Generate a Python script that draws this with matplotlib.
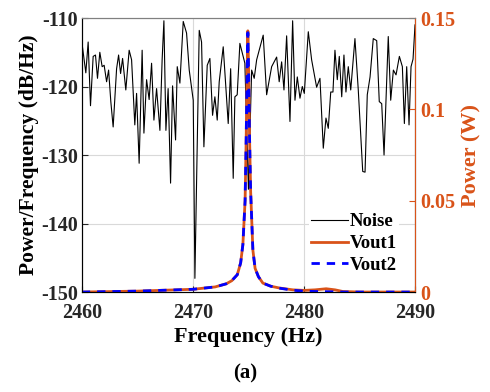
import matplotlib
matplotlib.use("Agg")
import matplotlib.pyplot as plt
from matplotlib.lines import Line2D

# ---- data ----
noise_freq = [
    2460.00, 2460.36, 2460.57, 2460.78, 2461.02, 2461.23, 2461.41, 2461.62, 2461.83, 2462.01,
    2462.23, 2462.41, 2462.61, 2462.82, 2463.13, 2463.31, 2463.49, 2463.67, 2463.96, 2464.26,
    2464.48, 2464.77, 2464.93, 2465.16, 2465.43, 2465.59, 2465.83, 2466.06, 2466.28, 2466.49,
    2466.73, 2467.03, 2467.23, 2467.39, 2467.57, 2467.77, 2467.99, 2468.17, 2468.44, 2468.59,
    2468.83, 2469.13, 2469.43, 2469.67, 2470.03, 2470.18, 2470.57, 2470.78, 2470.99, 2471.29,
    2471.53, 2471.77, 2471.98, 2472.19, 2472.37, 2472.73, 2473.18, 2473.40, 2473.63, 2473.78,
    2473.99, 2474.23, 2474.68, 2475.00, 2475.29, 2475.52, 2475.74, 2476.33, 2476.64, 2477.09,
    2477.54, 2477.77, 2477.99, 2478.20, 2478.44, 2478.74, 2478.98, 2479.19, 2479.40, 2479.64,
    2479.85, 2480.03, 2480.39, 2480.69, 2481.14, 2481.44, 2481.74, 2481.98, 2482.19, 2482.41,
    2482.61, 2482.79, 2483.00, 2483.18, 2483.40, 2483.60, 2483.78, 2483.99, 2484.21, 2484.59,
    2484.89, 2485.29, 2485.50, 2485.70, 2485.95, 2486.24, 2486.55, 2486.78, 2487.00, 2487.21,
    2487.59, 2487.81, 2488.05, 2488.29, 2488.59, 2488.86, 2489.04, 2489.25, 2489.46, 2489.64,
    2489.82, 2490.00,
]
noise_db = [
    -113.5, -118.0, -113.5, -122.8, -115.6, -115.4, -118.8, -115.0, -117.1, -116.9,
    -119.3, -117.6, -122.2, -125.9, -117.4, -115.4, -118.1, -115.9, -120.5, -114.7,
    -116.1, -125.6, -121.0, -131.2, -114.7, -126.8, -119.0, -121.9, -116.6, -124.9,
    -120.3, -126.4, -116.1, -110.4, -126.4, -120.3, -134.1, -119.9, -127.8, -117.1,
    -119.5, -110.5, -112.2, -117.6, -122.0, -148.0, -111.8, -113.5, -128.8, -116.9,
    -115.9, -124.2, -121.5, -124.9, -119.3, -114.2, -125.4, -117.4, -133.4, -121.5,
    -121.2, -113.7, -116.6, -135.0, -117.6, -118.8, -116.1, -112.5, -121.2, -117.1,
    -115.7, -119.3, -116.4, -120.5, -112.6, -125.1, -110.4, -122.0, -118.6, -121.7,
    -120.0, -121.0, -112.0, -116.1, -120.1, -118.8, -129.0, -124.6, -126.1, -120.8,
    -120.8, -114.7, -119.0, -115.6, -121.5, -115.4, -120.8, -117.1, -120.5, -113.0,
    -120.5, -132.4, -132.5, -121.2, -118.6, -113.0, -113.3, -122.2, -122.5, -130.0,
    -112.7, -122.0, -117.6, -118.3, -115.6, -117.1, -125.4, -117.1, -125.6, -117.1,
    -116.0, -111.0,
]

sig_freq = [2460, 2465, 2470, 2472, 2473, 2473.5, 2474, 2474.3, 2474.5, 2474.7,
            2474.8, 2474.88, 2474.95, 2475.02, 2475.1, 2475.2, 2475.4, 2475.6, 2475.9, 2476.3,
            2477, 2477.8, 2479, 2480, 2481, 2482, 2482.8, 2483.5, 2485, 2490]
vout1 = [0.0, 0.0005, 0.0015, 0.0028, 0.0045, 0.0062, 0.0095, 0.016, 0.026, 0.05,
         0.085, 0.12, 0.143, 0.12, 0.085, 0.055, 0.023, 0.013, 0.0084, 0.0049,
         0.0032, 0.0022, 0.0012, 0.0009, 0.0012, 0.0018, 0.0012, 0.0003, 0.0, 0.0]
vout2 = [0.0, 0.0005, 0.0015, 0.0028, 0.0045, 0.0062, 0.0095, 0.016, 0.026, 0.05,
         0.085, 0.12, 0.142, 0.12, 0.085, 0.055, 0.023, 0.013, 0.0084, 0.0049,
         0.0032, 0.0021, 0.0010, 0.0005, 0.0003, 0.0002, 0.0001, 0.0, 0.0, 0.0]

x_ticks = [2460, 2470, 2480, 2490]
left_ticks = [-150, -140, -130, -120, -110]
right_ticks = [0, 0.05, 0.1, 0.15]
right_labels = ["0", "0.05", "0.1", "0.15"]

ORANGE = "#D95319"
BLUE = "#0000FF"

plt.rcParams["font.family"] = ["Liberation Serif", "DejaVu Serif"]
plt.rcParams["font.weight"] = "bold"
plt.rcParams["axes.unicode_minus"] = False  # MATLAB style hyphen minus

fig = plt.figure(figsize=(4.9, 3.92), dpi=100)
ax = fig.add_axes([0.167, 0.255, 0.68, 0.699])

ax.plot(noise_freq, noise_db, color="black", linewidth=0.8)
ax.set_xlim(2460, 2490)
ax.set_ylim(-150, -110)
ax.set_xticks(x_ticks)
ax.set_yticks(left_ticks)
ax.grid(True, color="#d9d9d9", linewidth=0.8)
ax.set_axisbelow(True)
ax.tick_params(direction="in", labelsize=14.5, length=4, colors="#262626")
ax.tick_params(axis="x", pad=8)
ax.tick_params(axis="y", pad=3)
for lbl in ax.get_xticklabels() + ax.get_yticklabels():
    lbl.set_fontweight("bold")
ax.set_xlabel("Frequency (Hz)", fontsize=16, fontweight="bold", labelpad=3)
ax.set_ylabel("Power/Frequency (dB/Hz)", fontsize=15.5, fontweight="bold", labelpad=1)
for side in ["left", "bottom"]:
    ax.spines[side].set_color("#262626")
ax.spines["top"].set_color("#808080")

ax2 = ax.twinx()
ax2.plot(sig_freq, vout1, color=ORANGE, linewidth=2.0)
ax2.plot(sig_freq, vout2, color=BLUE, linewidth=2.0, linestyle=(0, (3, 2.5)))
ax2.set_ylim(0, 0.15)
ax2.set_yticks(right_ticks)
ax2.set_yticklabels(right_labels)
ax2.tick_params(direction="in", labelsize=14.5, length=4, colors=ORANGE, pad=4)
for lbl in ax2.get_yticklabels():
    lbl.set_fontweight("bold")
ax2.set_ylabel("Power (W)", fontsize=16, fontweight="bold", color=ORANGE, labelpad=4)
ax2.spines["right"].set_color(ORANGE)
ax2.spines["top"].set_color("#808080")

handles = [
    Line2D([], [], color="black", linewidth=0.8),
    Line2D([], [], color=ORANGE, linewidth=2.0),
    Line2D([], [], color=BLUE, linewidth=2.0, linestyle=(0, (3, 2.5))),
]
leg = ax2.legend(handles, ["Noise", "Vout1", "Vout2"], loc="lower right",
                 bbox_to_anchor=(0.98, 0.025), frameon=True, fancybox=False,
                 edgecolor="none", framealpha=1.0, fontsize=13.5,
                 handlelength=2.0, handletextpad=0.1, labelspacing=0.25,
                 borderpad=0.1)
for t in leg.get_texts():
    t.set_fontweight("bold")

fig.text(0.5, 0.035, "(a)", ha="center", fontsize=15, fontweight="bold")

fig.savefig("out.png", dpi=100)
